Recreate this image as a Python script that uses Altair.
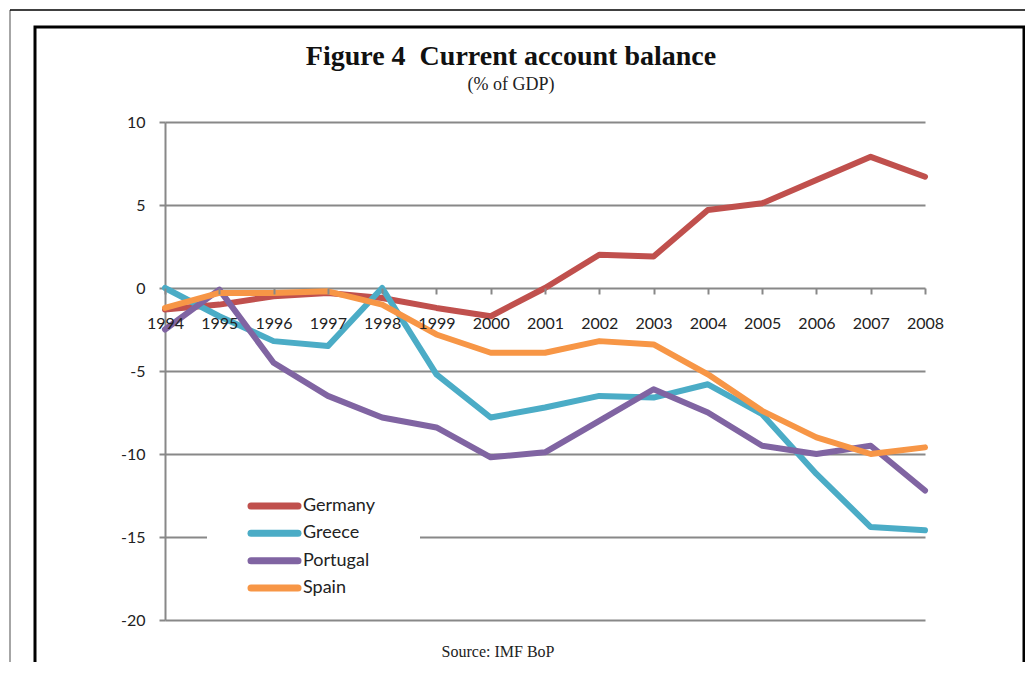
import altair as alt
import pandas as pd

years = list(range(1994, 2009))
countries = ["Germany", "Greece", "Portugal", "Spain"]
colors = ["#c0504d", "#4bacc6", "#8064a2", "#f79646"]

germany = [-1.3, -1.0, -0.5, -0.3, -0.6, -1.2, -1.7, 0.0, 2.0, 1.9, 4.7, 5.1, 6.5, 7.9, 6.7]
greece = [0.0, -1.7, -3.2, -3.5, 0.0, -5.2, -7.8, -7.2, -6.5, -6.6, -5.8, -7.6, -11.2, -14.4, -14.6]
portugal = [-2.5, -0.1, -4.5, -6.5, -7.8, -8.4, -10.2, -9.9, -8.0, -6.1, -7.5, -9.5, -10.0, -9.5, -12.2]
spain = [-1.2, -0.3, -0.3, -0.2, -1.0, -2.8, -3.9, -3.9, -3.2, -3.4, -5.2, -7.4, -9.0, -10.0, -9.6]

series = {"Germany": germany, "Greece": greece, "Portugal": portugal, "Spain": spain}
rows = []
for c in countries:
    for y, v in zip(years, series[c]):
        rows.append({"country": c, "year": y, "value": v})
df = pd.DataFrame(rows)
legend_df = pd.DataFrame({"country": countries})

title_text = "Figure 4\u00a0\u00a0Current account balance"
subtitle_text = "(% of GDP)"
source_text = "Source: IMF BoP"

W, H = 760, 498
grid_col = "#888888"
sans = "Lato"
serif = "Liberation Serif"

color_scale = alt.Scale(domain=countries, range=colors)

base = alt.Chart(pd.DataFrame({"a": [0]}))

outer_left = base.mark_rule(color="#888888", strokeWidth=1.5).encode(
    x=alt.value(-155), y=alt.value(-112), y2=alt.value(560))
outer_top = base.mark_rule(color="#000000", strokeWidth=1.5).encode(
    x=alt.value(-155), x2=alt.value(880), y=alt.value(-112))
inner_box = base.mark_rect(filled=False, stroke="#000000", strokeWidth=3).encode(
    x=alt.value(-130), x2=alt.value(859), y=alt.value(-95), y2=alt.value(600))

title = base.mark_text(font=serif, fontSize=28, fontWeight="bold", color="#111111",
                       align="center", baseline="middle").encode(
    x=alt.value(346), y=alt.value(-65), text=alt.value(title_text))
subtitle = base.mark_text(font=serif, fontSize=18, color="#222222",
                          align="center", baseline="middle").encode(
    x=alt.value(346), y=alt.value(-37), text=alt.value(subtitle_text))
source = base.mark_text(font=serif, fontSize=16, color="#222222",
                        align="center", baseline="middle").encode(
    x=alt.value(333), y=alt.value(530), text=alt.value(source_text))

lines = alt.Chart(df).mark_line(strokeWidth=6, strokeCap="round", strokeJoin="round").encode(
    x=alt.X("year:Q", scale=alt.Scale(domain=[1994, 2008], nice=False, zero=False),
            axis=alt.Axis(values=years, format="d", title=None, grid=False, domain=False,
                          offset=-332, zindex=1,
                          tickColor=grid_col, tickWidth=2, tickSize=6,
                          labelPadding=21, labelFont=sans, labelFontSize=16,
                          labelColor="#222222", labelFlush=False, labelOverlap=False)),
    y=alt.Y("value:Q", scale=alt.Scale(domain=[-20, 10], nice=False),
            axis=alt.Axis(values=[-20, -15, -10, -5, 0, 5, 10], title=None, grid=True,
                          labelExpr="'' + datum.value",
                          gridColor=grid_col, gridWidth=2, domainColor=grid_col,
                          domainWidth=2, tickColor=grid_col, tickWidth=2, tickSize=6,
                          labelPadding=14, labelFont=sans, labelFontSize=16,
                          labelColor="#222222")),
    color=alt.Color("country:N", scale=color_scale, legend=None),
    detail="country:N",
)

legend_bg = base.mark_rect(color="white").encode(
    x=alt.value(42), x2=alt.value(255), y=alt.value(368), y2=alt.value(478))

ly = alt.Y("country:N", scale=alt.Scale(type="point", domain=countries, range=[384, 466], padding=0),
           axis=None)
legend_lines = alt.Chart(legend_df).mark_rule(strokeWidth=7, strokeCap="round").encode(
    x=alt.value(86), x2=alt.value(133), y=ly,
    color=alt.Color("country:N", scale=color_scale, legend=None))
legend_text = alt.Chart(legend_df).mark_text(font=sans, fontSize=18, color="#222222",
                                             align="left", baseline="middle").encode(
    x=alt.value(138), y=ly, text="country:N")

chart = alt.layer(
    outer_left, outer_top, inner_box, title, subtitle, source,
    legend_bg, lines, legend_lines, legend_text
).resolve_scale(y="independent").properties(
    width=W, height=H,
    padding={"left": 157, "top": 114, "right": 100, "bottom": 42},
    autosize=alt.AutoSizeParams(type="none"),
).configure_view(stroke=None)

chart.save("out.html", embed_options={"renderer": "svg", "actions": False})
